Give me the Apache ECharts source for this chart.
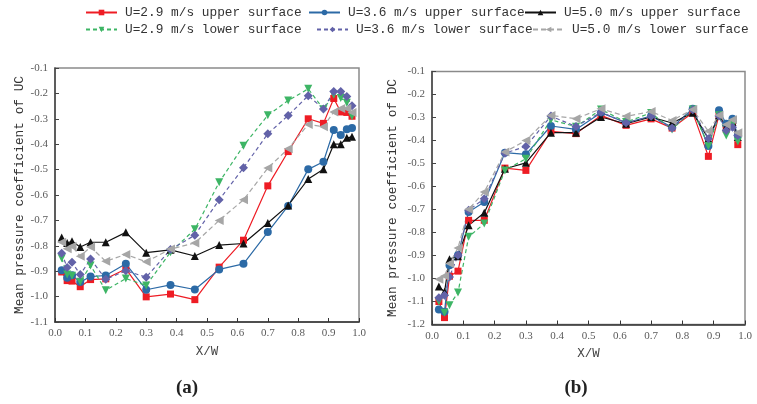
<!DOCTYPE html>
<html>
<head>
<meta charset="utf-8">
<script src="https://cdn.jsdelivr.net/npm/echarts@6/dist/echarts.min.js"></script>
<style>
  html, body { margin: 0; padding: 0; background: #fff; }
  #chart { width: 757px; height: 404px; }
</style>
</head>
<body>
<div id="chart"></div>
<script>
// Tap positions along the roof width (X/W), shared by both panels
var xw = [0.022, 0.04, 0.056, 0.083, 0.117, 0.167, 0.233, 0.3, 0.38, 0.46,
          0.54, 0.62, 0.7, 0.767, 0.833, 0.883, 0.917, 0.94, 0.96, 0.977];

var seriesNames = [
  'U=2.9 m/s upper surface', 'U=3.6 m/s upper surface', 'U=5.0 m/s upper surface',
  'U=2.9 m/s lower surface', 'U=3.6 m/s lower surface', 'U=5.0 m/s lower surface'
];

// Panel (a): mean pressure coefficient of UC
var ucU29 = [-0.903, -0.937, -0.939, -0.961, -0.933, -0.930, -0.891, -1.001, -0.990, -1.012,
             -0.884, -0.778, -0.564, -0.429, -0.300, -0.318, -0.220, -0.273, -0.275, -0.290];
var ucU36 = [-0.896, -0.926, -0.916, -0.943, -0.921, -0.917, -0.871, -0.973, -0.954, -0.972,
             -0.893, -0.871, -0.746, -0.643, -0.499, -0.469, -0.344, -0.364, -0.341, -0.336];
var ucU50 = [-0.767, -0.789, -0.782, -0.805, -0.786, -0.786, -0.747, -0.827, -0.816, -0.840,
             -0.797, -0.791, -0.710, -0.641, -0.537, -0.499, -0.400, -0.400, -0.375, -0.371];
var ucL29 = [-0.849, -0.913, -0.918, -0.942, -0.878, -0.975, -0.929, -0.956, -0.825, -0.735,
             -0.550, -0.406, -0.286, -0.228, -0.182, -0.262, -0.205, -0.218, -0.237, -0.290];
var ucL36 = [-0.829, -0.885, -0.865, -0.913, -0.852, -0.932, -0.898, -0.924, -0.815, -0.758,
             -0.619, -0.493, -0.359, -0.287, -0.209, -0.261, -0.193, -0.193, -0.212, -0.249];
var ucL50 = [-0.786, -0.812, -0.802, -0.841, -0.805, -0.861, -0.834, -0.863, -0.813, -0.789,
             -0.700, -0.619, -0.494, -0.418, -0.322, -0.331, -0.273, -0.259, -0.259, -0.275];

// Panel (b): mean pressure coefficient of DC
var dcU29 = [-1.100, -1.170, -0.990, -0.968, -0.747, -0.747, -0.520, -0.530, -0.360, -0.370,
             -0.291, -0.334, -0.306, -0.346, -0.279, -0.469, -0.290, -0.350, -0.320, -0.418];
var dcU36 = [-1.135, -1.145, -0.942, -0.899, -0.711, -0.667, -0.453, -0.460, -0.337, -0.352,
             -0.279, -0.323, -0.294, -0.342, -0.262, -0.424, -0.269, -0.327, -0.305, -0.378];
var dcU50 = [-1.035, -1.058, -0.916, -0.903, -0.769, -0.714, -0.523, -0.497, -0.366, -0.366,
             -0.298, -0.327, -0.298, -0.324, -0.279, -0.392, -0.290, -0.340, -0.320, -0.385];
var dcL29 = [-1.100, -1.149, -1.116, -1.061, -0.819, -0.761, -0.530, -0.479, -0.310, -0.340,
             -0.265, -0.320, -0.280, -0.352, -0.265, -0.424, -0.290, -0.378, -0.330, -0.404];
var dcL36 = [-1.084, -1.073, -0.993, -0.899, -0.703, -0.653, -0.455, -0.426, -0.294, -0.339,
             -0.277, -0.323, -0.295, -0.346, -0.266, -0.392, -0.294, -0.356, -0.342, -0.378];
var dcL50 = [-1.003, -0.989, -0.935, -0.867, -0.699, -0.624, -0.450, -0.400, -0.291, -0.305,
             -0.262, -0.295, -0.274, -0.313, -0.265, -0.360, -0.290, -0.330, -0.310, -0.366];

var ucSets = [ucU29, ucU36, ucU50, ucL29, ucL36, ucL50];
var dcSets = [dcU29, dcU36, dcU50, dcL29, dcL36, dcL50];

// Per-series look: colour, marker, rotation, line type
var looks = [
  { color: '#ee1c24', symbol: 'rect',     size: 7, rotate: 0,   dash: 'solid' },
  { color: '#2c6aa6', symbol: 'circle',   size: 8, rotate: 0,   dash: 'solid' },
  { color: '#111111', symbol: 'triangle', size: 8, rotate: 0,   dash: 'solid' },
  { color: '#3db565', symbol: 'triangle', size: 8, rotate: 180, dash: [4, 3] },
  { color: '#6262a8', symbol: 'diamond',  size: 9, rotate: 0,   dash: [4, 3] },
  { color: '#a6a6a6', symbol: 'triangle', size: 9, rotate: 90,  dash: [5, 3] }
];

function pairs(ys) {
  return ys.map(function (y, i) { return [xw[i], y]; });
}

var series = [];
[ucSets, dcSets].forEach(function (sets, g) {
  sets.forEach(function (ys, k) {
    var lk = looks[k];
    series.push({
      name: seriesNames[k],
      type: 'line',
      xAxisIndex: g,
      yAxisIndex: g,
      data: pairs(ys),
      symbol: lk.symbol,
      symbolSize: lk.size,
      symbolRotate: lk.rotate,
      showAllSymbol: true,
      lineStyle: { color: lk.color, width: 1.2, type: lk.dash },
      itemStyle: { color: lk.color },
      emphasis: { disabled: true },
      animation: false
    });
  });
});

var monoFont = '"Liberation Mono", "DejaVu Sans Mono", monospace';
var tickFont = '"Liberation Serif", "DejaVu Serif", serif';

// Six single-item legend blocks laid out on two rows
var legendPos = [
  [85, 6], [308, 6], [524, 6],
  [85, 23], [316, 23], [532, 23]
];
var legends = seriesNames.map(function (n, i) {
  return {
    data: [n],
    left: legendPos[i][0],
    top: legendPos[i][1],
    itemWidth: 31,
    itemHeight: 7,
    padding: 0,
    selectedMode: false,
    textStyle: { fontFamily: monoFont, fontSize: 12.8, color: '#333', padding: [0, 0, 0, 3] }
  };
});

function xAxisFor(g) {
  return {
    type: 'value', gridIndex: g, min: 0, max: 1, interval: 0.1,
    name: 'X/W', nameLocation: 'middle', nameGap: 23,
    nameTextStyle: { fontFamily: monoFont, fontSize: 12.5, color: '#444' },
    axisLine: { show: true, onZero: false, lineStyle: { color: '#333', width: 1.5 } },
    axisTick: { show: true, inside: true, length: 4, lineStyle: { color: '#333' } },
    axisLabel: { margin: 6, fontFamily: tickFont, fontSize: 11, color: '#5a5a5a',
                 formatter: function (v) { return v.toFixed(1); } },
    splitLine: { show: false }
  };
}

function yAxisFor(g, minV, label, gap) {
  return {
    type: 'value', gridIndex: g, min: minV, max: -0.1, interval: 0.1,
    name: label, nameLocation: 'middle', nameGap: gap,
    nameTextStyle: { fontFamily: monoFont, fontSize: 12.8, color: '#333' },
    axisLine: { show: true, onZero: false, lineStyle: { color: '#444', width: 1.5 } },
    axisTick: { show: true, inside: true, length: 4, lineStyle: { color: '#444' } },
    axisLabel: { margin: 7, fontFamily: tickFont, fontSize: 11, color: '#5a5a5a',
                 formatter: function (v) { return v.toFixed(1); } },
    splitLine: { show: false }
  };
}

var option = {
  backgroundColor: '#ffffff',
  animation: false,
  legend: legends,
  grid: [
    { left: 55, top: 68, width: 304, height: 254, show: true,
      borderColor: '#8a8a8a', borderWidth: 1.5, backgroundColor: 'transparent' },
    { left: 432, top: 71.5, width: 313, height: 253, show: true,
      borderColor: '#8a8a8a', borderWidth: 1.5, backgroundColor: 'transparent' }
  ],
  xAxis: [xAxisFor(0), xAxisFor(1)],
  yAxis: [
    yAxisFor(0, -1.1, 'Mean pressure coefficient of UC', 29),
    yAxisFor(1, -1.2, 'Mean pressure coefficient of DC', 33)
  ],
  graphic: [
    { type: 'text', x: 187, y: 388,
      style: { text: '(a)', textAlign: 'center', textVerticalAlign: 'middle',
               font: 'bold 19px "Liberation Serif", serif', fill: '#222' } },
    { type: 'text', x: 576, y: 388,
      style: { text: '(b)', textAlign: 'center', textVerticalAlign: 'middle',
               font: 'bold 19px "Liberation Serif", serif', fill: '#222' } }
  ],
  series: series
};

var chart = echarts.init(document.getElementById('chart'), null, { renderer: 'canvas' });
chart.setOption(option);
</script>
</body>
</html>
